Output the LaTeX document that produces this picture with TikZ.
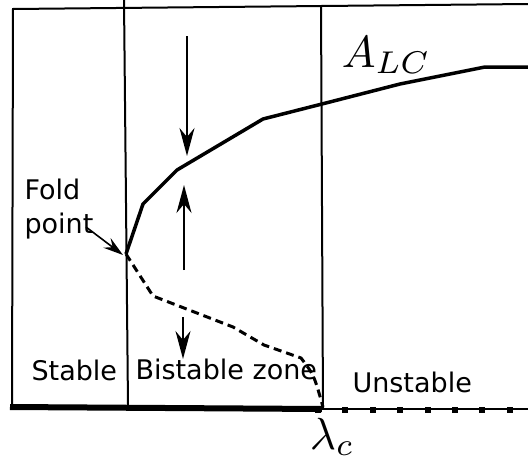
\documentclass[tikz,border=0pt]{standalone}
\usepackage{fontspec}
\newfontfamily\dv{DejaVu Sans}
\usetikzlibrary{arrows.meta}
\begin{document}
\begin{tikzpicture}[x=1pt,y=-1pt,
  frame/.style={line width=2pt},
  branch/.style={line width=3.5pt, line join=round},
  unst/.style={line width=3pt, dash pattern=on 8pt off 5pt},
  bigarrow/.style={line width=1.6pt, -{Stealth[length=28pt,width=15pt,inset=9pt]}},
  smallarrow/.style={line width=1.6pt, -{Stealth[length=20pt,width=12pt,inset=7pt]}},
  lbl/.style={font=\dv, scale=2.7, inner sep=0pt, anchor=base west},
  mlbl/.style={scale=4.5, inner sep=0pt, anchor=base west},
  sq/.style={fill=black, draw=none, minimum size=6pt, inner sep=0pt}]
\useasboundingbox (0,0) rectangle (528,461);
% frame
\coordinate (tl) at (13,9);
\coordinate (tr) at (528,4);
\coordinate (bl) at (12,405);
\draw[frame] (bl) -- (tl) -- (tr);
% vertical separators
\coordinate (v1t) at (124,0);
\coordinate (v1b) at (128,406);
\coordinate (v2t) at (321,5);
\coordinate (v2b) at (323,408);
\draw[frame] (v1t) -- (v1b);
\draw[frame] (v2t) -- (v2b);
% bottom axis
\coordinate (ax0) at (10,407);
\coordinate (axc) at (322,409);
\coordinate (ax1) at (528,409);
\draw[line width=6pt] (ax0) -- (axc);
\draw[line width=1.6pt] (axc) -- (ax1);
\foreach \i in {0,...,7} {
  \node[sq] (s\i) at ({318+27.4*\i},410) {};
}
% stable branch
\coordinate (fp) at (126,254);
\coordinate (p1) at (143,204);
\coordinate (p2) at (177,170);
\coordinate (p3) at (263,119);
\coordinate (p4) at (322,104);
\coordinate (p5) at (400,84);
\coordinate (p6) at (485,67);
\coordinate (p7) at (528,67);
\draw[branch] (fp) -- (p1) -- (p2) -- (p3) -- (p4) -- (p5) -- (p6) -- (p7);
% unstable branch
\coordinate (q1) at (153,296);
\coordinate (q2) at (233,327);
\coordinate (q3) at (264,345);
\coordinate (q4) at (301,358);
\coordinate (q5) at (314,375);
\coordinate (q6) at (323,407);
\draw[unst] (fp) -- (q1) -- (q2) -- (q3) -- (q4) .. controls (q5) .. (q6);
% arrows
\coordinate (a1s) at (187,36);
\coordinate (a1e) at (187,156);
\coordinate (a2s) at (184,270);
\coordinate (a2e) at (184,185);
\coordinate (a3s) at (183,317);
\coordinate (a3e) at (183,359);
\draw[bigarrow] (a1s) -- (a1e);
\draw[bigarrow] (a2s) -- (a2e);
\draw[bigarrow] (a3s) -- (a3e);
% labels
\node[lbl] (fold) at (24,199) {Fold};
\node[lbl] (point) at (24,233) {point};
\coordinate (fa) at (86,227);
\coordinate (fe) at (123,255);
\draw[smallarrow] (fa) -- (fe);
\node[lbl] (stable) at (31,380) {Stable};
\node[lbl] (bistable) at (135,379) {Bistable zone};
\node[lbl] (unstable) at (352,392) {Unstable};
\node[mlbl] (alc) at (341,67) {$A_{LC}$};
\node[mlbl] (lc) at (309,449) {$\lambda_c$};
\end{tikzpicture}
\end{document}
